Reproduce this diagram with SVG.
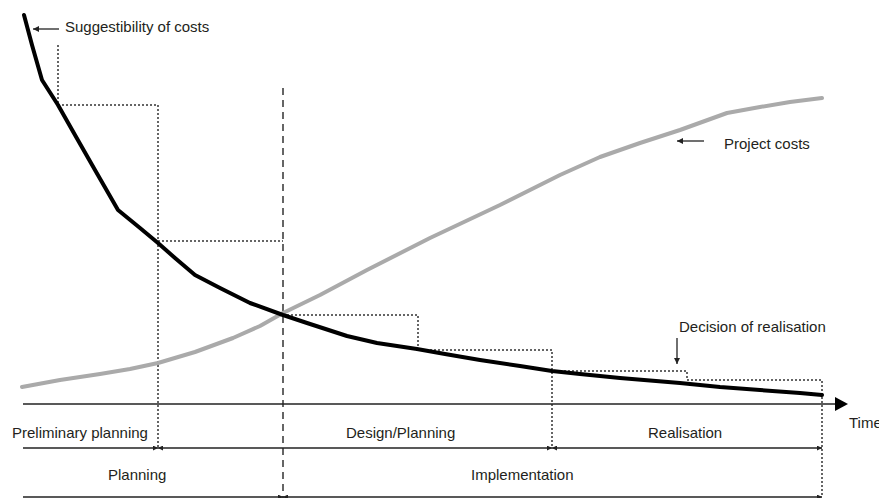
<svg xmlns="http://www.w3.org/2000/svg" width="879" height="498" viewBox="0 0 879 498">
<style>
text{font-family:"Liberation Sans",Arial,sans-serif;font-size:15px;fill:#231f20}
.dot{fill:none;stroke:#333;stroke-width:1.5;stroke-dasharray:2,2}
.dash{fill:none;stroke:#333;stroke-width:1.5;stroke-dasharray:7,5}
.ax{fill:none;stroke:#222;stroke-width:1.6}
.ptr{fill:none;stroke:#222;stroke-width:1.3}
</style>
<defs>
<marker id="sa" viewBox="0 0 8 8" refX="8" refY="4" markerWidth="5" markerHeight="5" markerUnits="userSpaceOnUse" orient="auto-start-reverse"><path d="M0,0 L8,4 L0,8 z" fill="#222"/></marker>
<marker id="pa" viewBox="0 0 8 8" refX="8" refY="4" markerWidth="6" markerHeight="6" markerUnits="userSpaceOnUse" orient="auto"><path d="M0,0 L8,4 L0,8 z" fill="#222"/></marker>
</defs>
<g id="guides">
<polyline class="dot" points="58,45 58,105 158,105 158,448"/>
<polyline class="dot" points="158,241 283,241"/>
<polyline class="dot" points="283,315 418,315 418,350"/>
<polyline class="dot" points="418,350 552,350 552,448"/>
<polyline class="dot" points="552,371 687,371 687,380 822,380 822,497"/>
<line class="dash" x1="283" y1="88" x2="283" y2="498"/>
</g>
<g id="project-costs-curve">
<polyline fill="none" stroke="#aaaaaa" stroke-width="4" stroke-linejoin="round" stroke-linecap="round" points="22,387 60,380 100,374 130,369 158,363 195,352 233,338 260,326 283,313 320,295 367,270 430,238 500,205 560,175 600,157 640,143 680,130 727,113 760,107 790,102 822,98"/>
</g>
<g id="suggestibility-curve">
<polyline fill="none" stroke="#000" stroke-width="4" stroke-linejoin="round" stroke-linecap="round" points="24,15 32,45 42,80 58,105 75,135 95,170 118,210 140,228 158,243 175,258 195,275 220,288 250,303 283,315 307,323 347,336 377,343 417,349 445,354 480,360 520,366 552,371 580,374 620,378 680,383 720,387 760,390 800,393 822,395"/>
</g>
<g id="connectors">
<line class="ax" x1="23" y1="404" x2="836" y2="404"/>
<path d="M835,397 L848,404 L835,411 z" fill="#000"/>
<line class="ax" x1="23" y1="448" x2="158" y2="448" marker-end="url(#sa)"/>
<line class="ax" x1="158" y1="448" x2="552" y2="448" marker-start="url(#sa)" marker-end="url(#sa)"/>
<line class="ax" x1="552" y1="448" x2="822" y2="448" marker-start="url(#sa)" marker-end="url(#sa)"/>
<line class="ax" x1="23" y1="497" x2="283" y2="497" marker-end="url(#sa)"/>
<line class="ax" x1="283" y1="497" x2="822" y2="497" marker-start="url(#sa)" marker-end="url(#sa)"/>
<line class="ptr" x1="59" y1="29" x2="33" y2="29" marker-end="url(#pa)"/>
<line class="ptr" x1="704" y1="141" x2="677" y2="141" marker-end="url(#pa)"/>
<line class="ptr" x1="677" y1="338" x2="677" y2="364" marker-end="url(#pa)"/>
</g>
<g id="labels">
<text x="65" y="32">Suggestibility of costs</text>
<text x="724" y="149">Project costs</text>
<text x="679" y="332">Decision of realisation</text>
<text x="849" y="428">Time</text>
<text x="12" y="438">Preliminary planning</text>
<text x="346" y="438">Design/Planning</text>
<text x="648" y="438">Realisation</text>
<text x="108" y="480">Planning</text>
<text x="471" y="480">Implementation</text>
</g>
</svg>
